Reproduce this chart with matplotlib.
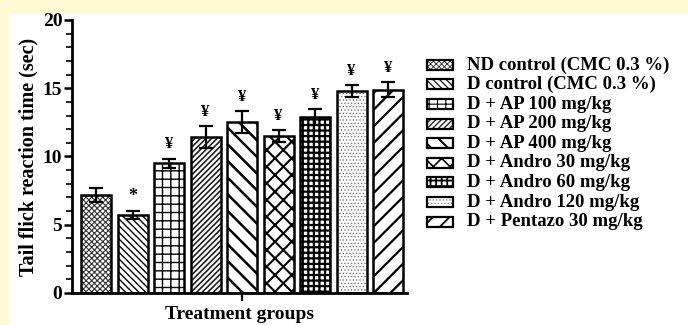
import numpy as np
import matplotlib
matplotlib.use("Agg")
from matplotlib import pyplot as plt
from matplotlib.patches import Rectangle

plt.rcParams['font.family'] = ['Liberation Serif', 'DejaVu Serif']
plt.rcParams['font.weight'] = 'bold'
plt.rcParams['hatch.linewidth'] = 1.0

groups = ["ND control (CMC 0.3 %)", "D control (CMC 0.3 %)", "D + AP 100 mg/kg",
          "D + AP 200 mg/kg", "D + AP 400 mg/kg", "D + Andro 30 mg/kg",
          "D + Andro 60 mg/kg", "D + Andro 120 mg/kg", "D + Pentazo 30 mg/kg"]
means = [7.2, 5.7, 9.5, 11.4, 12.5, 11.5, 12.9, 14.8, 14.9]
sems = [0.5, 0.3, 0.35, 0.8, 0.8, 0.45, 0.6, 0.45, 0.55]
marks = ["", "*", "¥", "¥", "¥", "¥", "¥", "¥", "¥"]

hatches = ['xxxxxx', '\\\\\\\\\\', '++', '//////', '\\\\', 'xx', '+++', '.....', '//']
hatch_lw = [0.8, 1.0, 1.0, 1.2, 1.8, 1.5, 1.6, 0.6, 1.6]
hatch_col = ['#333333', 'black', 'black', '#222222', 'black', 'black', 'black', '#777777', 'black']

fig = plt.figure(figsize=(6.88, 3.25), dpi=100)
# yellow page margin along the top and left edges
fig.patches.append(Rectangle((0, 0.963), 1, 0.037, transform=fig.transFigure,
                             color='#fffad4', zorder=0))
fig.patches.append(Rectangle((0, 0), 0.012, 1, transform=fig.transFigure,
                             color='#fffad4', zorder=0))

ax = fig.add_axes([0.1047, 0.0985, 0.487, 0.84])
x = np.arange(len(means))
for i in range(len(means)):
    ax.bar(x[i], means[i], width=0.82, color='white', edgecolor=hatch_col[i],
           hatch=hatches[i], linewidth=0, hatch_linewidth=hatch_lw[i], zorder=2)
    ax.bar(x[i], means[i], width=0.82, color='none', edgecolor='black',
           linewidth=1.8, zorder=3)
ax.errorbar(x, means, yerr=sems, fmt='none', ecolor='black', elinewidth=1.6,
            capsize=5, capthick=1.6, zorder=4)
for i in range(len(means)):
    if marks[i]:
        ax.text(x[i], means[i] + sems[i] + 0.45, marks[i], ha='center', va='bottom',
                fontsize=13 if marks[i] == "*" else 12, fontweight='bold')

ax.set_xlim(-0.66, 8.52)
ax.set_ylim(0, 20)
ax.set_yticks([0, 5, 10, 15, 20])
ax.set_yticks(np.arange(0, 21, 1), minor=True)
ax.set_xticks([4])
ax.set_xticklabels([""])
ax.tick_params(axis='y', which='major', length=6, width=1.8, labelsize=14, pad=1)
ax.tick_params(axis='y', which='minor', length=4, width=1.2)
ax.tick_params(axis='x', length=6, width=1.6)
for s in ['top', 'right']:
    ax.spines[s].set_visible(False)
for s in ['left', 'bottom']:
    ax.spines[s].set_linewidth(2)
ax.set_ylabel("Tail flick reaction time (sec)", fontsize=14.5, fontweight='bold', labelpad=3)
ax.set_xlabel("Treatment groups", fontsize=14, fontweight='bold', labelpad=0)

# legend with hatched boxes
for i, name in enumerate(groups):
    y = 0.8 - i * 0.0603
    fig.patches.append(Rectangle((0.621, y - 0.015), 0.037, 0.031, transform=fig.transFigure,
                                 facecolor='white', edgecolor=hatch_col[i], hatch=hatches[i],
                                 linewidth=0, hatch_linewidth=hatch_lw[i] * 0.8, zorder=2))
    fig.patches.append(Rectangle((0.621, y - 0.015), 0.037, 0.031, transform=fig.transFigure,
                                 facecolor='none', edgecolor='black', linewidth=1.6, zorder=3))
    fig.text(0.679, y, name, fontsize=13.5, fontweight='bold', va='center', ha='left')

fig.savefig("out.png", dpi=100)
